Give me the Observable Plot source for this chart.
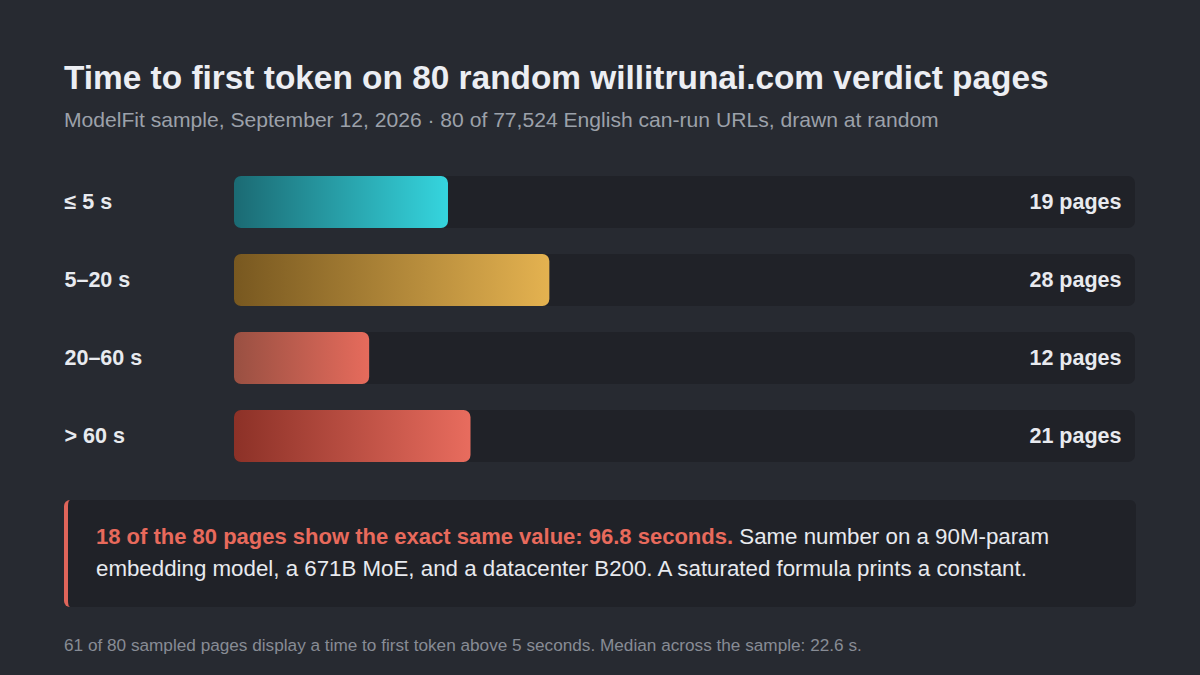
<!DOCTYPE html>
<html>
<head>
<meta charset="utf-8">
<script src="https://cdn.jsdelivr.net/npm/d3@7"></script>
<script src="https://cdn.jsdelivr.net/npm/@observablehq/plot@0.6"></script>
<style>
  html, body { margin: 0; padding: 0; }
  body { width: 1200px; height: 675px; background: #272a31; position: relative; overflow: hidden;
         font-family: "Liberation Sans", Arial, Helvetica, sans-serif; }
  .title { position: absolute; left: 64px; top: 58px; font-size: 33.4px; line-height: 40px; font-weight: bold; color: #eceef3; margin: 0; white-space: nowrap; }
  .subtitle { position: absolute; left: 64px; top: 106.5px; font-size: 21.1px; line-height: 26px; color: #9ca1aa; white-space: nowrap; }
  #chart { position: absolute; left: 0; top: 150px; }
  .callout { position: absolute; left: 64px; top: 500px; width: 1072px; height: 107px; box-sizing: border-box;
             background: #202228; border-left: 4px solid #e0655a; border-radius: 6px;
             padding: 21px 0 0 28px; font-size: 22.3px; line-height: 32px; color: #e8eaef; white-space: nowrap; }
  .callout b { color: #e86a5c; font-size: 22px; }
  .foot { position: absolute; left: 64px; top: 635px; font-size: 17.2px; line-height: 20px; color: #878c95; white-space: nowrap; }
</style>
</head>
<body>
<div class="title">Time to first token on 80 random willitrunai.com verdict pages</div>
<div class="subtitle">ModelFit sample, September 12, 2026 · 80 of 77,524 English can-run URLs, drawn at random</div>
<div id="chart"></div>
<div class="callout"><b>18 of the 80 pages show the exact same value: 96.8 seconds.</b> Same number on a 90M-param<br>embedding model, a 671B MoE, and a datacenter B200. A saturated formula prints a constant.</div>
<div class="foot">61 of 80 sampled pages display a time to first token above 5 seconds. Median across the sample: 22.6 s.</div>
<script>
const buckets = ["≤ 5 s", "5–20 s", "20–60 s", "> 60 s"];
const pages = [19, 28, 12, 21];
const sampleSize = 80;
const gradStart = ["#1b6a73", "#785820", "#995042", "#8c3127"];
const gradEnd = ["#35d5de", "#e4b250", "#e66b5c", "#e86c5e"];

const data = buckets.map((b, i) => ({bucket: b, pages: pages[i], total: sampleSize, grad: `url(#grad${i})`, label: `${pages[i]} pages`}));

const chart = Plot.plot({
  width: 1200,
  height: 335,
  marginLeft: 234,
  marginRight: 65,
  marginTop: 13,
  marginBottom: 10,
  style: {background: "transparent", fontFamily: "'Liberation Sans', Arial, Helvetica, sans-serif", fontSize: "21.5px", fontWeight: "bold"},
  x: {domain: [0, sampleSize], axis: null},
  y: {domain: buckets, axis: null, paddingInner: 1/3, paddingOuter: 1/6},
  color: {type: "identity"},
  marks: [
    Plot.barX(data, {x1: 0, x2: "total", y: "bucket", fill: "#202228", rx: 7}),
    Plot.barX(data, {x1: 0, x2: "pages", y: "bucket", fill: "grad", rx: 7}),
    Plot.text(data, {x: 0, y: "bucket", text: "bucket", textAnchor: "start", dx: -170, fill: "#e8eaef", fontWeight: "bold"}),
    Plot.text(data, {x: "total", y: "bucket", text: "label", textAnchor: "end", dx: -14, fill: "#e8eaef", fontWeight: "bold"})
  ]
});

const defs = d3.select(chart).insert("defs", ":first-child");
buckets.forEach((b, i) => {
  const g = defs.append("linearGradient").attr("id", `grad${i}`).attr("x1", "0").attr("x2", "1").attr("y1", "0").attr("y2", "0");
  g.append("stop").attr("offset", "0").attr("stop-color", gradStart[i]);
  g.append("stop").attr("offset", "1").attr("stop-color", gradEnd[i]);
});

document.getElementById("chart").appendChild(chart);
</script>
</body>
</html>
